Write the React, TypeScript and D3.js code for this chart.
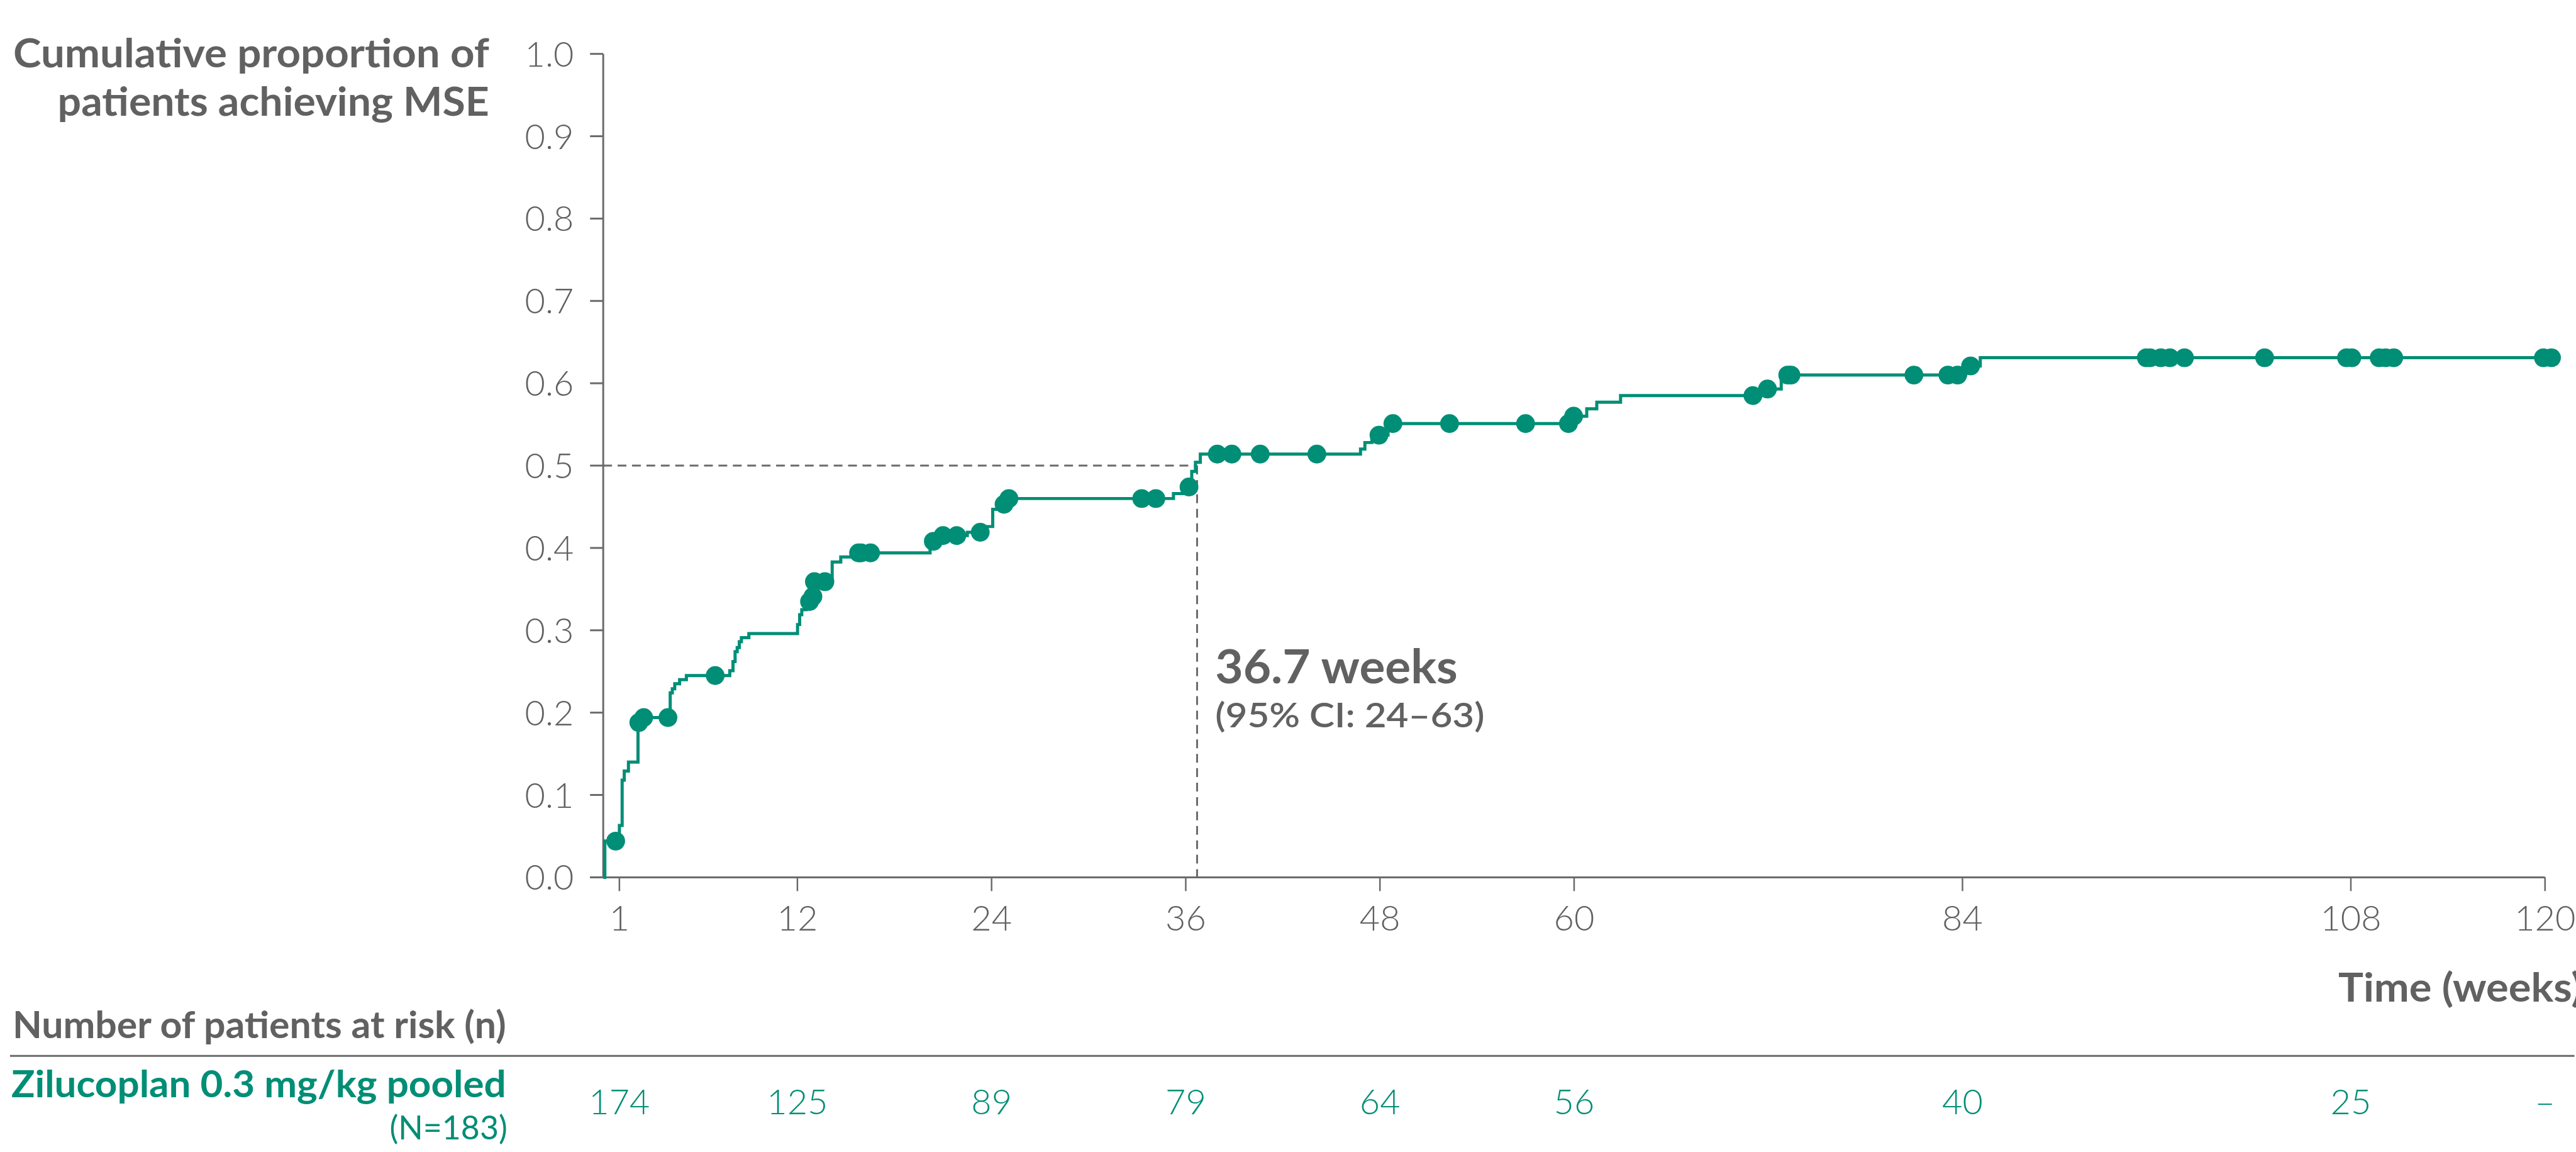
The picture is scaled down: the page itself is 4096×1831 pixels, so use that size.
import React from "react";
import * as d3 from "d3";

// ---- data ----
const xTicks = [1, 12, 24, 36, 48, 60, 84, 108, 120];
const yTicks = [0, 0.1, 0.2, 0.3, 0.4, 0.5, 0.6, 0.7, 0.8, 0.9, 1.0];
const atRisk = ["174", "125", "89", "79", "64", "56", "40", "25", "–"];

// Kaplan–Meier event steps: time (weeks) and cumulative proportion after the step
const stepTimes = [
  0.1, 1.0, 1.17, 1.3, 1.56, 2.15, 2.35, 4.14, 4.27, 4.42, 4.72, 5.14, 7.82, 8.02, 8.15,
  8.28, 8.41, 8.54, 9.0, 12.01, 12.14, 12.27, 12.55, 12.92, 13.0, 14.15, 14.68, 15.4, 20.2,
  20.7, 22.5, 23.5, 24.07, 24.6, 24.95, 35.24, 35.9, 36.37, 36.6, 36.9, 46.8, 47.07, 47.5,
  48.5, 59.8, 60.78, 61.4, 62.87, 71.5, 72.8, 84.2, 85.1,
];
const stepValues = [
  0.044, 0.063, 0.118, 0.129, 0.14, 0.188, 0.194, 0.224, 0.229, 0.235, 0.24, 0.245, 0.251,
  0.262, 0.274, 0.279, 0.286, 0.291, 0.296, 0.307, 0.319, 0.325, 0.335, 0.341, 0.359, 0.383,
  0.389, 0.394, 0.408, 0.415, 0.419, 0.426, 0.447, 0.453, 0.46, 0.466, 0.474, 0.493, 0.504,
  0.514, 0.52, 0.528, 0.537, 0.551, 0.56, 0.569, 0.577, 0.585, 0.593, 0.61, 0.621, 0.631,
];
const censorTimes = [
  0.77, 2.2, 2.5, 4.0, 6.92, 12.75, 12.96, 13.05, 13.7, 15.78, 15.93, 16.52, 20.4, 21.0,
  21.85, 23.3, 24.77, 25.07, 33.28, 34.15, 36.2, 37.95, 38.85, 40.6, 44.1, 47.94, 48.8, 52.3,
  57.0, 59.65, 59.97, 71.05, 71.95, 73.2, 73.4, 81.0, 83.1, 83.7, 84.5, 95.36, 95.59, 96.26,
  96.82, 97.72, 102.67, 107.73, 108.06, 109.75, 110.15, 110.65, 119.9, 120.4,
];
const curveEnd = 120.5;
const medianTime = 36.7;
const medianLabel = "36.7 weeks";
const ciLabel = "(95% CI: 24–63)";

const TEAL = "#008E76";
const GRAY = "#616161";
const AXIS = "#6a6a6a";
const FONT = "Lato, 'Open Sans', sans-serif";

export default function App() {
  const x = d3.scaleLinear().domain([0, 120]).range([963, 4063]);
  const y = d3.scaleLinear().domain([0, 1]).range([1400, 86]);

  const pts: [number, number][] = [[0, 0]];
  stepTimes.forEach((t, i) => pts.push([t, stepValues[i]]));
  pts.push([curveEnd, stepValues[stepValues.length - 1]]);

  const line = d3
    .line<[number, number]>()
    .x((d) => x(d[0]))
    .y((d) => y(d[1]))
    .curve(d3.curveStepAfter);

  const valueAt = (t: number) => {
    let v = 0;
    for (let i = 0; i < stepTimes.length; i++) if (stepTimes[i] <= t) v = stepValues[i];
    return v;
  };

  const fit = { lengthAdjust: "spacingAndGlyphs" as const };

  return (
    <svg
      width={4096}
      height={1831}
      style={{ position: "absolute", left: 0, top: 0, display: "block", background: "#fff" }}
    >
      <g transform="scale(0.996)">
        {/* Y axis title */}
        <text x={781} y={107} textAnchor="end" fontFamily={FONT} fontWeight={700} fontSize={64} fill={GRAY} textLength={760} {...fit}>
          Cumulative proportion of
        </text>
        <text x={781} y={185} textAnchor="end" fontFamily={FONT} fontWeight={700} fontSize={64} fill={GRAY} textLength={689} {...fit}>
          patients achieving MSE
        </text>

        {/* median dashed guides */}
        <line
          x1={x(0)} x2={x(medianTime)} y1={y(0.5)} y2={y(0.5)}
          stroke={AXIS} strokeWidth={3} strokeDasharray="14,9"
        />
        <line
          x1={x(medianTime)} x2={x(medianTime)} y1={y(0.5)} y2={y(0)}
          stroke={AXIS} strokeWidth={3} strokeDasharray="14,9"
        />

        {/* Y axis */}
        <line x1={x(0)} x2={x(0)} y1={y(0)} y2={y(1)} stroke={AXIS} strokeWidth={3} />
        {yTicks.map((t) => (
          <g key={t}>
            <line x1={x(0) - 21} x2={x(0)} y1={y(t)} y2={y(t)} stroke={AXIS} strokeWidth={3} />
            <text
              x={916} y={y(t)} dy="0.36em" textAnchor="end"
              fontFamily={FONT} fontWeight={300} fontSize={56} fill={GRAY}
            >
              {t.toFixed(1)}
            </text>
          </g>
        ))}

        {/* X axis */}
        <line x1={x(0) - 21} x2={x(120)} y1={y(0)} y2={y(0)} stroke={AXIS} strokeWidth={3} />
        {xTicks.map((t) => (
          <g key={t}>
            <line x1={x(t)} x2={x(t)} y1={y(0)} y2={y(0) + 22} stroke={AXIS} strokeWidth={2.5} />
            <text
              x={x(t)} y={1485} textAnchor="middle"
              fontFamily={FONT} fontWeight={300} fontSize={56} fill={GRAY}
            >
              {t}
            </text>
          </g>
        ))}
        <text x={3733} y={1598} fontFamily={FONT} fontWeight={700} fontSize={64} fill={GRAY} textLength={390} {...fit}>
          Time (weeks)
        </text>

        {/* KM curve */}
        <path d={line(pts) || ""} fill="none" stroke={TEAL} strokeWidth={5} />
        {censorTimes.map((t, i) => (
          <circle key={i} cx={x(t)} cy={y(valueAt(t))} r={15} fill={TEAL} />
        ))}

        {/* median annotation */}
        <text x={1940} y={1090} fontFamily={FONT} fontWeight={700} fontSize={74} fill={GRAY} textLength={387} {...fit}>
          {medianLabel}
        </text>
        <text x={1940} y={1161} fontFamily={FONT} fontWeight={600} fontSize={54} fill={GRAY} textLength={430} {...fit}>
          {ciLabel}
        </text>

        {/* number at risk table */}
        <text x={20} y={1657} fontFamily={FONT} fontWeight={700} fontSize={60} fill={GRAY} textLength={788} {...fit}>
          Number of patients at risk (n)
        </text>
        <line x1={16} x2={4110} y1={1685} y2={1685} stroke={AXIS} strokeWidth={3} />
        <text x={18} y={1751} fontFamily={FONT} fontWeight={700} fontSize={60} fill={TEAL} textLength={790} {...fit}>
          Zilucoplan 0.3 mg/kg pooled
        </text>
        <text x={810} y={1818} textAnchor="end" fontFamily={FONT} fontWeight={400} fontSize={52} fill={TEAL}>
          (N=183)
        </text>
        {xTicks.map((t, i) => (
          <text
            key={t} x={x(t)} y={1778} textAnchor="middle"
            fontFamily={FONT} fontWeight={300} fontSize={56} fill={TEAL}
          >
            {atRisk[i]}
          </text>
        ))}
      </g>
    </svg>
  );
}
